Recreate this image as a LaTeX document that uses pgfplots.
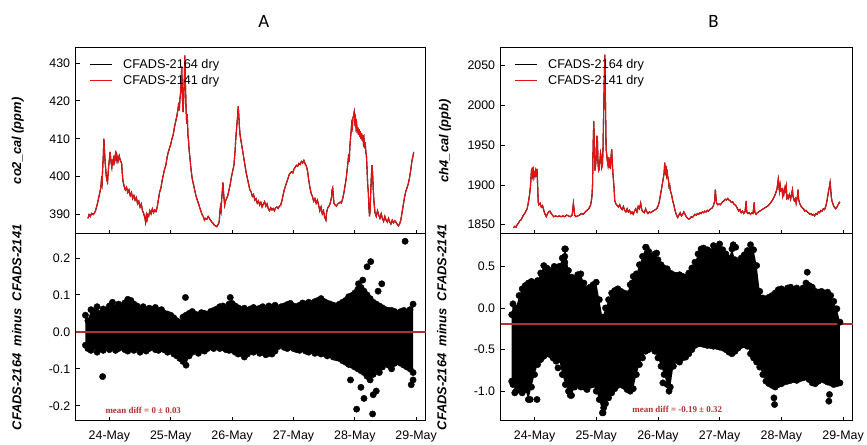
\documentclass[border=0pt]{standalone}
\usepackage{fontspec}
\setmainfont{Liberation Sans}
\newfontfamily\carlito{Carlito}
\newfontfamily\tnr{Liberation Serif}
\usepackage{pgfplots}
\pgfplotsset{compat=1.18}
\usepackage{pgfplotstable}
\usepgfplotslibrary{fillbetween}
\definecolor{serred}{RGB}{232,16,16}
\definecolor{meanc}{RGB}{175,50,50}

\pgfplotstableread{
x y
23.65 389.0
23.67 390.0
23.69 389.5
23.71 390.3
23.74 390.0
23.77 390.8
23.80 392.5
23.82 394.0
23.84 395.5
23.86 397.0
23.87 399.0
23.88 398.0
23.89 402.0
23.90 405.0
23.91 410.0
23.92 407.0
23.93 404.0
23.94 402.0
23.95 400.0
23.96 399.0
23.97 398.5
23.98 401.0
23.99 403.0
24.00 404.5
24.01 406.5
24.02 405.0
24.03 403.5
24.04 402.5
24.05 404.5
24.06 403.0
24.07 405.5
24.08 404.0
24.10 406.0
24.11 404.5
24.12 405.8
24.14 404.0
24.16 405.5
24.18 404.2
24.20 403.5
24.21 401.0
24.22 399.0
24.24 397.5
24.26 396.5
24.28 397.2
24.30 395.8
24.32 396.5
24.34 395.0
24.36 395.8
24.38 394.2
24.40 395.0
24.42 393.8
24.44 394.5
24.46 392.8
24.48 393.5
24.50 392.0
24.52 392.8
24.54 391.0
24.56 390.2
24.58 389.0
24.59 388.0
24.60 389.5
24.61 388.0
24.62 390.0
24.64 389.5
24.66 391.0
24.68 390.2
24.70 391.5
24.72 390.5
24.74 391.2
24.76 390.8
24.78 392.0
24.80 394.0
24.82 396.0
24.84 397.0
24.86 399.0
24.88 400.5
24.90 402.0
24.92 403.0
24.94 405.0
24.96 406.5
24.98 407.5
25.00 408.5
25.02 410.0
25.04 411.0
25.06 413.0
25.08 414.5
25.10 416.0
25.12 418.0
25.13 419.5
25.14 417.5
25.15 420.5
25.16 422.0
25.17 426.0
25.18 429.0
25.19 421.0
25.20 417.0
25.21 420.0
25.22 425.0
25.23 432.0
25.24 424.0
25.25 418.0
25.26 414.0
25.27 416.5
25.28 411.0
25.29 409.5
25.30 407.0
25.31 405.5
25.33 402.0
25.35 399.5
25.37 398.0
25.39 396.5
25.41 395.0
25.43 394.0
25.45 393.0
25.47 392.0
25.49 391.0
25.51 390.0
25.53 389.5
25.55 388.5
25.57 389.0
25.59 388.8
25.61 389.5
25.63 389.0
25.65 388.5
25.67 388.0
25.69 387.7
25.71 387.2
25.73 387.0
25.75 386.8
25.77 387.3
25.79 388.0
25.80 390.5
25.81 392.0
25.82 391.0
25.83 394.0
25.84 396.0
25.85 398.5
25.86 396.0
25.87 394.0
25.88 392.5
25.89 393.5
25.91 394.2
25.93 395.0
25.95 396.5
25.97 398.0
25.99 400.0
26.01 401.5
26.03 403.0
26.05 407.0
26.06 410.0
26.07 412.0
26.08 414.0
26.09 416.0
26.10 418.5
26.11 416.0
26.12 413.0
26.13 411.0
26.15 409.0
26.17 407.0
26.19 405.0
26.21 403.0
26.23 401.0
26.25 399.5
26.27 398.0
26.29 396.5
26.31 396.0
26.33 394.8
26.35 395.3
26.37 393.8
26.39 394.2
26.41 393.0
26.43 393.6
26.45 392.5
26.47 393.2
26.49 392.0
26.51 392.8
26.53 393.4
26.55 392.2
26.57 392.8
26.59 391.5
26.61 391.0
26.63 391.8
26.65 391.2
26.67 391.6
26.69 391.0
26.71 391.8
26.73 392.0
26.75 391.6
26.77 392.2
26.79 392.4
26.81 393.5
26.83 395.0
26.85 396.5
26.87 397.5
26.89 398.5
26.91 399.5
26.93 400.5
26.95 401.0
26.97 401.3
26.99 401.0
27.01 402.0
27.03 402.5
27.05 403.0
27.07 402.8
27.09 403.5
27.11 403.2
27.13 404.0
27.15 403.6
27.17 404.3
27.19 403.4
27.21 402.8
27.23 401.5
27.25 399.0
27.27 397.0
27.29 395.5
27.31 394.8
27.33 393.5
27.35 394.2
27.37 393.0
27.39 393.8
27.41 392.5
27.43 391.0
27.45 392.0
27.47 390.2
27.49 391.0
27.51 389.2
27.53 388.5
27.54 390.5
27.56 391.8
27.58 392.2
27.60 393.0
27.62 394.5
27.63 396.5
27.64 397.0
27.65 395.0
27.66 393.0
27.68 392.5
27.70 392.2
27.72 392.8
27.74 393.0
27.76 393.3
27.78 393.0
27.80 394.0
27.82 395.5
27.84 397.5
27.86 399.5
27.88 402.5
27.89 404.0
27.90 406.0
27.91 404.0
27.92 408.0
27.93 410.0
27.94 412.0
27.95 414.0
27.96 413.0
27.97 415.5
27.98 416.0
27.99 417.0
28.00 414.5
28.01 415.5
28.02 413.0
28.03 414.0
28.04 411.5
28.05 413.0
28.06 411.0
28.07 412.5
28.08 410.5
28.09 412.0
28.10 410.0
28.11 411.5
28.12 409.5
28.13 411.0
28.14 409.0
28.15 410.0
28.16 407.5
28.17 409.0
28.18 406.5
28.19 405.5
28.20 402.0
28.21 398.0
28.22 396.0
28.23 392.0
28.24 389.5
28.25 391.0
28.26 396.0
28.27 400.0
28.28 403.0
28.29 401.0
28.30 397.0
28.31 394.0
28.32 392.0
28.33 390.5
28.35 389.5
28.37 391.0
28.39 389.8
28.41 389.0
28.43 390.2
28.45 389.0
28.47 388.2
28.49 389.5
28.51 388.5
28.53 388.0
28.55 389.0
28.57 388.0
28.59 387.5
28.61 388.5
28.63 387.8
28.65 388.4
28.67 388.0
28.69 387.5
28.71 387.0
28.73 387.5
28.75 388.5
28.77 390.5
28.79 392.5
28.81 394.5
28.83 396.0
28.85 397.0
28.87 398.0
28.89 399.5
28.91 401.5
28.93 404.0
28.95 405.5
28.96 406.5
}\cotab

\pgfplotstableread{
x y
23.66 1846
23.68 1848
23.70 1847
23.72 1850
23.74 1852
23.76 1855
23.78 1856
23.80 1859
23.82 1862
23.84 1864
23.86 1867
23.88 1870
23.90 1878
23.92 1888
23.93 1895
23.94 1905
23.95 1918
23.96 1920
23.97 1912
23.98 1918
23.99 1910
24.00 1915
24.01 1912
24.02 1918
24.03 1914
24.04 1920
24.05 1900
24.06 1878
24.07 1875
24.09 1877
24.11 1872
24.13 1874
24.15 1868
24.17 1863
24.19 1860
24.21 1864
24.23 1866
24.25 1867
24.27 1864
24.29 1862
24.31 1860
24.34 1861
24.37 1860
24.40 1861
24.43 1860
24.46 1861
24.49 1860
24.52 1862
24.55 1861
24.58 1860
24.61 1862
24.62 1870
24.63 1877
24.64 1870
24.65 1862
24.67 1860
24.70 1861
24.73 1862
24.76 1864
24.79 1863
24.82 1866
24.85 1868
24.88 1870
24.91 1875
24.93 1885
24.94 1900
24.95 1950
24.96 1980
24.97 1950
24.98 1918
24.99 1925
25.00 1935
25.01 1962
25.02 1955
25.03 1925
25.04 1918
25.05 1920
25.06 1930
25.07 1940
25.08 1935
25.09 1922
25.10 1925
25.11 1945
25.12 1990
25.13 2030
25.14 2064
25.15 2000
25.16 1945
25.17 1938
25.18 1930
25.19 1925
25.20 1935
25.21 1922
25.22 1928
25.23 1920
25.24 1935
25.25 1945
25.26 1930
25.27 1915
25.28 1905
25.29 1895
25.30 1880
25.32 1876
25.34 1874
25.36 1872
25.38 1875
25.40 1871
25.42 1869
25.44 1873
25.46 1868
25.48 1866
25.50 1870
25.52 1866
25.54 1868
25.56 1864
25.58 1866
25.60 1863
25.62 1867
25.64 1870
25.66 1866
25.68 1873
25.70 1870
25.72 1877
25.74 1868
25.76 1866
25.78 1865
25.80 1870
25.82 1866
25.84 1864
25.86 1866
25.88 1865
25.90 1866
25.92 1867
25.94 1868
25.96 1869
25.98 1870
26.00 1873
26.02 1878
26.04 1887
26.06 1896
26.08 1905
26.10 1915
26.11 1928
26.12 1918
26.13 1924
26.14 1912
26.15 1916
26.16 1910
26.17 1906
26.18 1898
26.19 1900
26.20 1893
26.22 1888
26.24 1880
26.26 1874
26.28 1867
26.30 1862
26.32 1859
26.34 1862
26.36 1865
26.38 1861
26.40 1863
26.42 1866
26.44 1863
26.46 1860
26.48 1858
26.50 1857
26.52 1858
26.54 1860
26.56 1859
26.58 1861
26.60 1863
26.62 1862
26.64 1864
26.66 1863
26.68 1865
26.70 1864
26.72 1866
26.74 1865
26.76 1867
26.78 1866
26.80 1868
26.82 1867
26.84 1869
26.86 1870
26.88 1871
26.90 1874
26.92 1880
26.93 1894
26.94 1885
26.95 1877
26.97 1875
26.99 1876
27.01 1875
27.03 1877
27.05 1879
27.07 1880
27.09 1882
27.11 1881
27.13 1883
27.15 1881
27.17 1880
27.19 1878
27.21 1879
27.23 1876
27.25 1875
27.27 1873
27.29 1870
27.31 1867
27.33 1869
27.35 1865
27.37 1867
27.39 1864
27.41 1866
27.42 1872
27.43 1880
27.44 1866
27.46 1864
27.48 1865
27.50 1863
27.52 1865
27.54 1864
27.55 1870
27.56 1878
27.57 1866
27.59 1863
27.61 1865
27.63 1866
27.65 1867
27.67 1868
27.69 1869
27.71 1870
27.73 1871
27.75 1872
27.77 1873
27.79 1874
27.81 1876
27.83 1878
27.85 1880
27.87 1883
27.89 1886
27.91 1890
27.93 1895
27.95 1907
27.96 1898
27.97 1892
27.98 1900
27.99 1893
28.01 1895
28.02 1887
28.03 1892
28.04 1888
28.06 1897
28.07 1893
28.08 1898
28.09 1884
28.10 1886
28.11 1883
28.13 1888
28.15 1882
28.17 1890
28.18 1894
28.19 1885
28.21 1880
28.23 1883
28.24 1877
28.26 1885
28.27 1894
28.28 1882
28.30 1876
28.32 1873
28.34 1871
28.36 1870
28.38 1867
28.40 1868
28.42 1866
28.44 1865
28.46 1863
28.48 1864
28.50 1862
28.52 1863
28.54 1861
28.56 1864
28.58 1863
28.60 1866
28.62 1865
28.64 1868
28.66 1867
28.68 1870
28.70 1869
28.72 1873
28.74 1880
28.76 1890
28.78 1898
28.79 1903
28.80 1895
28.81 1885
28.82 1880
28.84 1875
28.86 1872
28.88 1870
28.90 1872
28.92 1875
28.94 1878
28.95 1877
}\chtab

\pgfplotstableread{
x up lo
23.61 0.045 -0.036
23.65 0.030 -0.045
23.70 0.060 -0.050
23.75 0.055 -0.040
23.80 0.068 -0.055
23.85 0.050 -0.045
23.90 0.062 -0.050
23.95 0.058 -0.042
24.00 0.070 -0.048
24.05 0.080 -0.040
24.10 0.065 -0.050
24.15 0.075 -0.045
24.20 0.070 -0.040
24.25 0.078 -0.048
24.30 0.088 -0.052
24.35 0.085 -0.045
24.40 0.075 -0.050
24.45 0.070 -0.042
24.50 0.062 -0.055
24.55 0.068 -0.048
24.60 0.055 -0.052
24.65 0.064 -0.045
24.70 0.060 -0.040
24.75 0.066 -0.048
24.80 0.055 -0.050
24.85 0.060 -0.045
24.90 0.050 -0.049
24.95 0.048 -0.055
25.00 0.045 -0.050
25.05 0.038 -0.060
25.10 0.030 -0.065
25.15 0.025 -0.072
25.20 0.040 -0.080
25.25 0.045 -0.090
25.30 0.050 -0.065
25.35 0.055 -0.055
25.40 0.048 -0.050
25.45 0.045 -0.058
25.50 0.052 -0.048
25.55 0.050 -0.052
25.60 0.046 -0.045
25.65 0.055 -0.040
25.70 0.058 -0.045
25.75 0.062 -0.038
25.80 0.068 -0.045
25.85 0.070 -0.042
25.90 0.062 -0.048
25.95 0.075 -0.050
26.00 0.077 -0.049
26.05 0.070 -0.055
26.10 0.065 -0.060
26.15 0.060 -0.058
26.20 0.064 -0.068
26.25 0.058 -0.060
26.30 0.062 -0.052
26.35 0.066 -0.055
26.40 0.060 -0.050
26.45 0.064 -0.058
26.50 0.068 -0.055
26.55 0.062 -0.062
26.60 0.070 -0.058
26.65 0.066 -0.060
26.70 0.072 -0.052
26.75 0.063 -0.040
26.80 0.068 -0.035
26.85 0.070 -0.042
26.90 0.074 -0.045
26.95 0.077 -0.040
27.00 0.070 -0.045
27.05 0.068 -0.048
27.10 0.072 -0.050
27.15 0.078 -0.046
27.20 0.075 -0.052
27.25 0.080 -0.055
27.30 0.076 -0.050
27.35 0.082 -0.058
27.40 0.085 -0.055
27.45 0.090 -0.060
27.50 0.082 -0.058
27.55 0.078 -0.065
27.60 0.075 -0.062
27.65 0.072 -0.068
27.70 0.070 -0.070
27.75 0.075 -0.072
27.80 0.080 -0.078
27.85 0.085 -0.082
27.90 0.095 -0.088
27.95 0.098 -0.090
28.00 0.105 -0.095
28.05 0.115 -0.100
28.10 0.120 -0.105
28.15 0.110 -0.110
28.20 0.100 -0.120
28.25 0.090 -0.130
28.30 0.080 -0.115
28.35 0.075 -0.100
28.40 0.070 -0.110
28.45 0.065 -0.095
28.50 0.060 -0.085
28.55 0.058 -0.090
28.60 0.058 -0.100
28.65 0.055 -0.085
28.70 0.050 -0.080
28.75 0.055 -0.085
28.80 0.058 -0.090
28.85 0.050 -0.095
28.90 0.060 -0.100
28.95 0.075 -0.110
}\lltab

\pgfplotstableread{
x y
23.89 -0.121
25.24 0.093
25.97 0.093
28.82 0.245
28.26 0.190
28.20 0.176
28.03 -0.209
28.29 -0.222
28.92 -0.143
28.06 0.130
28.13 0.140
28.44 0.130
28.10 -0.150
28.30 -0.170
28.35 -0.160
27.93 -0.130
28.95 -0.130
28.15 -0.180
28.38 0.110
}\llout

\pgfplotstableread{
x up lo
23.63 -0.08 -0.88
23.65 0.05 -0.92
23.70 0.00 -1.00
23.75 0.15 -0.95
23.80 0.23 -1.02
23.85 0.27 -0.98
23.90 0.30 -1.10
23.95 0.32 -0.95
24.00 0.30 -0.80
24.05 0.33 -0.68
24.10 0.42 -0.62
24.15 0.51 -0.58
24.20 0.48 -0.55
24.25 0.45 -0.56
24.30 0.44 -0.60
24.35 0.43 -0.64
24.40 0.50 -0.62
24.45 0.60 -0.80
24.50 0.71 -0.92
24.55 0.45 -1.00
24.60 0.37 -1.05
24.65 0.35 -0.95
24.70 0.40 -0.90
24.75 0.41 -0.94
24.80 0.30 -0.95
24.85 0.23 -0.98
24.90 0.25 -0.93
24.95 0.28 -0.92
25.00 0.31 -1.00
25.05 0.10 -1.10
25.10 -0.11 -1.26
25.15 0.00 -1.15
25.20 0.10 -1.08
25.25 0.18 -1.02
25.30 0.21 -0.97
25.35 0.23 -0.93
25.40 0.20 -0.92
25.45 0.18 -0.94
25.50 0.17 -0.98
25.55 0.28 -1.00
25.60 0.38 -0.97
25.65 0.41 -0.80
25.70 0.52 -0.68
25.75 0.62 -0.60
25.80 0.73 -0.52
25.85 0.68 -0.50
25.90 0.62 -0.47
25.95 0.65 -0.52
26.00 0.58 -0.60
26.05 0.52 -0.70
26.10 0.48 -0.80
26.15 0.47 -0.92
26.20 0.42 -0.95
26.25 0.40 -0.70
26.30 0.39 -0.63
26.35 0.40 -0.65
26.40 0.38 -0.60
26.45 0.37 -0.59
26.50 0.42 -0.55
26.55 0.48 -0.50
26.60 0.55 -0.45
26.65 0.65 -0.43
26.70 0.71 -0.43
26.75 0.67 -0.44
26.80 0.70 -0.45
26.85 0.68 -0.45
26.90 0.75 -0.46
26.95 0.72 -0.46
27.00 0.77 -0.47
27.05 0.70 -0.48
27.10 0.65 -0.50
27.15 0.60 -0.53
27.20 0.71 -0.55
27.25 0.58 -0.52
27.30 0.55 -0.48
27.35 0.60 -0.45
27.40 0.64 -0.44
27.45 0.69 -0.46
27.50 0.76 -0.55
27.55 0.70 -0.60
27.60 0.51 -0.65
27.65 0.20 -0.71
27.70 0.12 -0.80
27.75 0.11 -0.88
27.80 0.13 -0.91
27.85 0.15 -0.93
27.90 0.18 -0.95
27.95 0.22 -0.92
28.00 0.23 -0.91
28.05 0.20 -0.89
28.10 0.24 -0.88
28.15 0.25 -0.87
28.20 0.22 -0.86
28.25 0.24 -0.87
28.30 0.20 -0.85
28.35 0.24 -0.84
28.40 0.30 -0.83
28.45 0.27 -0.86
28.50 0.25 -0.90
28.55 0.20 -0.91
28.60 0.19 -0.88
28.65 0.20 -0.86
28.70 0.18 -0.87
28.75 0.19 -0.89
28.80 0.15 -0.90
28.85 0.08 -0.92
28.90 -0.01 -0.91
28.95 -0.17 -0.90
}\lrtab

\pgfplotstableread{
x y
25.11 -1.26
25.12 -1.20
27.89 -1.16
28.77 -1.12
28.42 0.43
24.49 0.71
24.49 0.62
24.49 0.55
25.81 0.73
24.04 -1.10
23.93 -1.10
23.80 -1.00
24.58 -1.05
24.75 -0.95
27.88 -1.08
28.78 -1.04
24.32 0.50
24.12 0.40
25.58 0.30
25.98 0.66
26.60 0.40
27.26 0.73
26.74 0.72
27.22 0.76
23.68 -1.02
24.38 -0.72
26.18 -1.00
26.08 -0.90
}\lrout

\pgfplotsset{
  panel/.style={
    scale only axis,
    xmin=23.45, xmax=29.16,
    axis line style={line width=1bp},
    tick style={black, line width=0.8bp},
    tick align=inside,
    major tick length=4bp,
    xtick={24,25,26,27,28,29},
    xtick pos=bottom, ytick pos=left,
    tick label style={font=\fontsize{12.5}{14}\selectfont},
    /pgf/number format/assume math mode=true,
    /pgf/number format/1000 sep={},
    y label style={font=\fontsize{13}{15}\selectfont\bfseries\itshape, anchor=center},
    yticklabel style={xshift=-2bp},
    xticklabel style={yshift=-6bp},
  },
  legpanel/.style={
    legend style={draw=none, fill=none, at={(axis description cs:0.0,1.0)}, anchor=north west,
      xshift=11bp, yshift=-7bp,
      font=\fontsize{12.8}{14}\selectfont, row sep=2bp},
    legend cell align=left,
  },
}

\begin{document}
\begin{tikzpicture}

\node[font=\carlito\fontsize{19}{20}\selectfont] at (265bp,425bp) {A};
\node[font=\carlito\fontsize{19}{20}\selectfont] at (717bp,425bp) {B};

% upper left: CO2
\begin{axis}[panel, legpanel, at={(76bp,212bp)}, anchor=south west, width=352bp, height=187bp,
  ymin=384.9, ymax=434.0, ytick={390,400,410,420,430}, xticklabels={},
  ylabel={co2\_cal (ppm)}, y label style={at={(axis description cs:-0.165,0.5)}}]
\addplot[black, line width=1.1bp, forget plot] table[x=x,y=y]{\cotab};
\addplot[serred, line width=1.1bp, forget plot] table[x=x,y=y]{\cotab};
\addlegendimage{legend image code/.code={\draw[black, line width=1.2bp] (0bp,0bp) -- (22bp,0bp); \path[draw=none] (0bp,0bp) -- (31bp,0bp);}}
\addlegendentry{CFADS-2164 dry}
\addlegendimage{legend image code/.code={\draw[serred, line width=1.2bp] (0bp,0bp) -- (22bp,0bp); \path[draw=none] (0bp,0bp) -- (31bp,0bp);}}
\addlegendentry{CFADS-2141 dry}
\end{axis}

% lower left: CO2 difference
\begin{axis}[panel, at={(76bp,24bp)}, anchor=south west, width=352bp, height=188bp,
  ymin=-0.241, ymax=0.265, ytick={-0.2,-0.1,0,0.1,0.2},
  yticklabel style={/pgf/number format/.cd, fixed, fixed zerofill, precision=1},
  xticklabels={24-May,25-May,26-May,27-May,28-May,29-May},
  ylabel={CFADS-2164~~minus~~CFADS-2141}, y label style={at={(axis description cs:-0.168,0.5)}}]
\addplot[draw=none, name path=U, forget plot] table[x=x,y=up]{\lltab};
\addplot[draw=none, name path=L, forget plot] table[x=x,y=lo]{\lltab};
\addplot[black, forget plot] fill between[of=U and L];
\addplot[only marks, mark=*, mark size=3.2bp, black] table[x=x,y=up]{\lltab};
\addplot[only marks, mark=*, mark size=3.2bp, black] table[x=x,y=lo]{\lltab};
\addplot[only marks, mark=*, mark size=3.2bp, black] table[x=x,y=y]{\llout};
\addplot[draw=meanc, line width=1.6bp] coordinates {(23.45,0) (29.16,0)};
\node[anchor=west, text=meanc, font=\tnr\bfseries\fontsize{9}{10}\selectfont] at (axis cs:23.88,-0.212) {mean diff = 0 ± 0.03};
\end{axis}

% upper right: CH4
\begin{axis}[panel, legpanel, at={(503bp,212bp)}, anchor=south west, width=354bp, height=187bp,
  ymin=1838.4, ymax=2072.5, ytick={1850,1900,1950,2000,2050}, xticklabels={},
  ylabel={ch4\_cal (ppb)}, y label style={at={(axis description cs:-0.158,0.5)}}]
\addplot[black, line width=1.1bp, forget plot] table[x=x,y=y]{\chtab};
\addplot[serred, line width=1.1bp, forget plot] table[x=x,y=y]{\chtab};
\addlegendimage{legend image code/.code={\draw[black, line width=1.2bp] (0bp,0bp) -- (22bp,0bp); \path[draw=none] (0bp,0bp) -- (31bp,0bp);}}
\addlegendentry{CFADS-2164 dry}
\addlegendimage{legend image code/.code={\draw[serred, line width=1.2bp] (0bp,0bp) -- (22bp,0bp); \path[draw=none] (0bp,0bp) -- (31bp,0bp);}}
\addlegendentry{CFADS-2141 dry}
\end{axis}

% lower right: CH4 difference
\begin{axis}[panel, at={(503bp,24bp)}, anchor=south west, width=354bp, height=188bp,
  ymin=-1.358, ymax=0.891, ytick={-1,-0.5,0,0.5},
  yticklabel style={/pgf/number format/.cd, fixed, fixed zerofill, precision=1},
  xticklabels={24-May,25-May,26-May,27-May,28-May,29-May},
  ylabel={CFADS-2164~~minus~~CFADS-2141}, y label style={at={(axis description cs:-0.167,0.5)}}]
\addplot[draw=none, name path=U, forget plot] table[x=x,y=up]{\lrtab};
\addplot[draw=none, name path=L, forget plot] table[x=x,y=lo]{\lrtab};
\addplot[black, forget plot] fill between[of=U and L];
\addplot[only marks, mark=*, mark size=3.2bp, black] table[x=x,y=up]{\lrtab};
\addplot[only marks, mark=*, mark size=3.2bp, black] table[x=x,y=lo]{\lrtab};
\addplot[only marks, mark=*, mark size=3.2bp, black] table[x=x,y=y]{\lrout};
\addplot[draw=meanc, line width=1.6bp] coordinates {(23.45,-0.19) (29.16,-0.19)};
\node[anchor=west, text=meanc, font=\tnr\bfseries\fontsize{9}{10}\selectfont] at (axis cs:25.53,-1.223) {mean diff = -0.19 ± 0.32};
\end{axis}

\path (0bp,0bp) rectangle (867bp,447bp);
\end{tikzpicture}
\end{document}
